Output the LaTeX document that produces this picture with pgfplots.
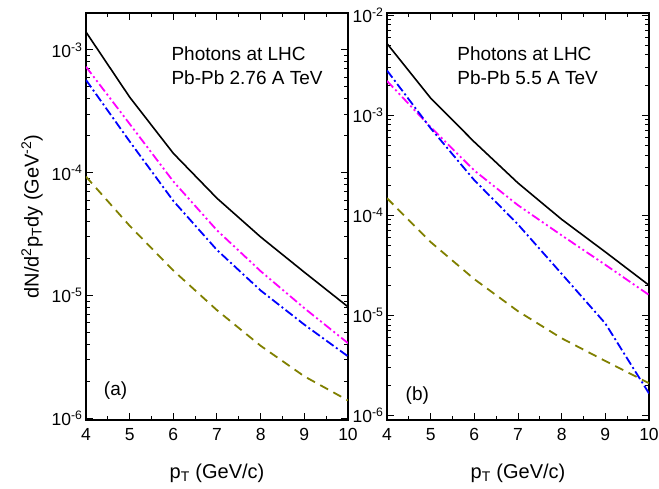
\documentclass[border=0pt]{standalone}
\usepackage{pgfplots}
\pgfplotsset{compat=1.18}
\usepackage{fontspec}
\setmainfont{Liberation Sans}
\definecolor{myolive}{RGB}{128,128,0}
\definecolor{mymag}{RGB}{255,0,255}
\definecolor{myblue}{RGB}{0,0,255}
\pgfplotsset{
  myaxis/.style={
    scale only axis, width=262pt, height=407pt,
    xmin=4, xmax=10,
    xtick={4,5,6,7,8,9,10}, minor x tick num=1,
    tick align=inside, major tick length=7pt, minor tick length=4pt,
    axis line style={line width=1.2pt}, every tick/.style={line width=1pt,black},
    /pgf/number format/assume math mode=true,
    tick label style={font=\fontsize{17.5}{20}\selectfont},
    xticklabel style={yshift=-5pt},
    xlabel={p\textsubscript{T} (GeV/c)},
    xlabel style={font=\fontsize{20}{24}\selectfont, at={(axis description cs:0.5,-0.13)}, anchor=center},
  },
  black line/.style={black, line width=1.6pt},
  mag line/.style={mymag, line width=1.8pt, dash pattern=on 9pt off 3pt on 2pt off 3pt on 2pt off 3pt},
  blue line/.style={myblue, line width=1.8pt, dash pattern=on 9pt off 3pt on 2pt off 3pt},
  olive line/.style={myolive, line width=1.8pt, dash pattern=on 9pt off 6pt},
}
\begin{document}
\begin{tikzpicture}
\useasboundingbox (-86pt,-68pt) rectangle (573pt,420pt);
\begin{semilogyaxis}[myaxis, at={(0pt,0pt)}, anchor=south west,
  ymin=9.7e-7, ymax=2e-3,
  ytick={1e-6,1e-5,1e-4,1e-3},
  yticklabels={10\textsuperscript{-6},10\textsuperscript{-5},10\textsuperscript{-4},10\textsuperscript{-3}},
  ylabel={dN/d\textsuperscript{2}p\textsubscript{T}dy (GeV\textsuperscript{-2})},
  ylabel style={font=\fontsize{20}{24}\selectfont, at={(axis description cs:-0.206,0.5)}, anchor=center},
]
\addplot[black line] coordinates {(4,1.40e-3) (5,4.13e-4) (6,1.44e-4) (7,6.2e-5) (8,3.0e-5) (9,1.55e-5) (10,8.1e-6)};
\addplot[mag line] coordinates {(4,7.3e-4) (5,2.5e-4) (6,8.5e-5) (7,3.4e-5) (8,1.58e-5) (9,7.9e-6) (10,4.1e-6)};
\addplot[blue line] coordinates {(4,5.7e-4) (5,1.8e-4) (6,5.9e-5) (7,2.35e-5) (8,1.1e-5) (9,5.8e-6) (10,3.2e-6)};
\addplot[olive line] coordinates {(4,9.3e-5) (5,3.7e-5) (6,1.6e-5) (7,7.6e-6) (8,3.9e-6) (9,2.2e-6) (10,1.4e-6)};
\node[anchor=west, font=\fontsize{19}{22}\selectfont] at (rel axis cs:0.313,0.901) {Photons at LHC};
\node[anchor=west, font=\fontsize{19}{22}\selectfont] at (rel axis cs:0.313,0.840) {Pb-Pb 2.76 A TeV};
\node[anchor=west, font=\fontsize{19}{22}\selectfont] at (rel axis cs:0.055,0.072) {(a)};
\end{semilogyaxis}
\begin{semilogyaxis}[myaxis, at={(301pt,0pt)}, anchor=south west,
  ymin=9e-7, ymax=1.05e-2,
  ytick={1e-6,1e-5,1e-4,1e-3,1e-2},
  yticklabels={10\textsuperscript{-6},10\textsuperscript{-5},10\textsuperscript{-4},10\textsuperscript{-3},10\textsuperscript{-2}},
]
\addplot[black line] coordinates {(4,5.2e-3) (5,1.48e-3) (6,5.4e-4) (7,2.1e-4) (8,9.1e-5) (9,4.3e-5) (10,2.0e-5)};
\addplot[mag line] coordinates {(4,2.2e-3) (5,7.6e-4) (6,2.8e-4) (7,1.26e-4) (8,6.3e-5) (9,3.2e-5) (10,1.6e-5)};
\addplot[blue line] coordinates {(4,2.8e-3) (5,7.4e-4) (6,2.24e-4) (7,8.1e-5) (8,2.6e-5) (9,8.3e-6) (10,1.66e-6)};
\addplot[olive line] coordinates {(4,1.48e-4) (5,5.4e-5) (6,2.3e-5) (7,1.1e-5) (8,5.9e-6) (9,3.5e-6) (10,2.1e-6)};
\node[anchor=west, font=\fontsize{19}{22}\selectfont] at (rel axis cs:0.255,0.901) {Photons at LHC};
\node[anchor=west, font=\fontsize{19}{22}\selectfont] at (rel axis cs:0.255,0.840) {Pb-Pb 5.5 A TeV};
\node[anchor=west, font=\fontsize{19}{22}\selectfont] at (rel axis cs:0.058,0.060) {(b)};
\end{semilogyaxis}
\end{tikzpicture}
\end{document}
